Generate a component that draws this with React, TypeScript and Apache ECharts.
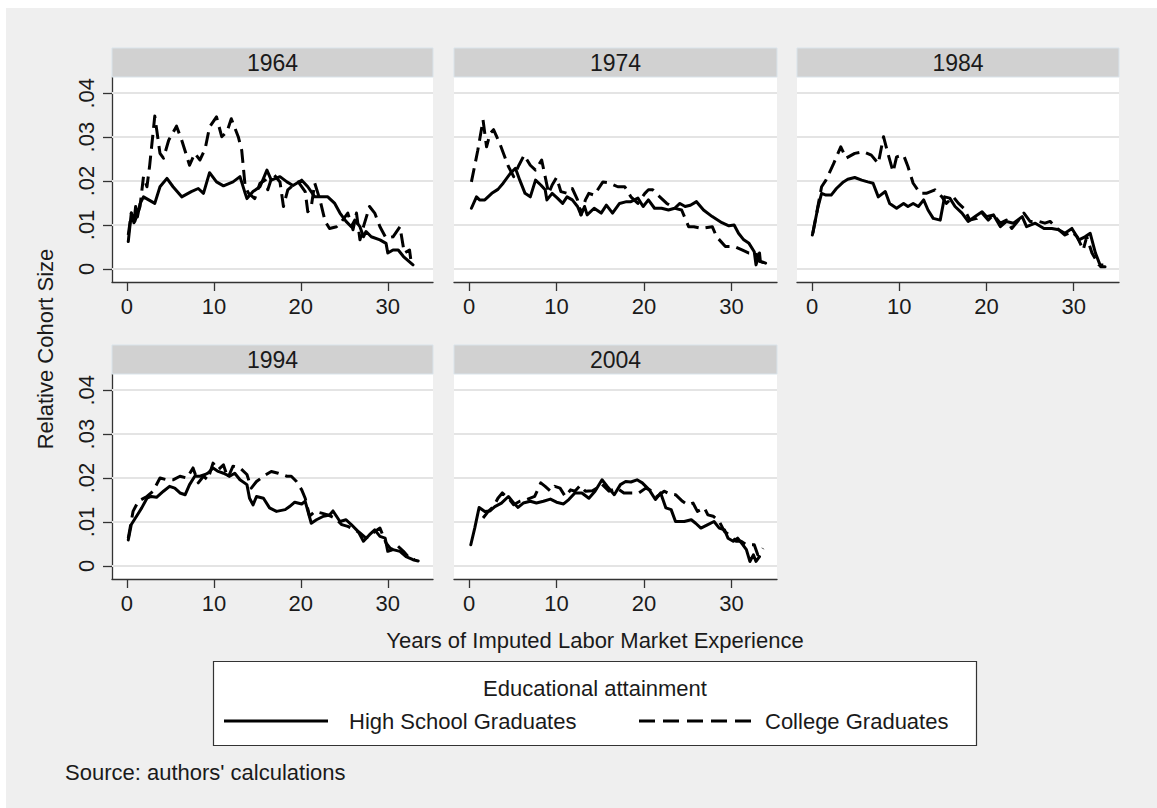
import React, { useEffect, useRef } from 'react';
import * as echarts from 'echarts';

const panelYears = ['1964', '1974', '1984', '1994', '2004'];
const xTicks = [0, 10, 20, 30];
const yTicks = [0, 0.01, 0.02, 0.03, 0.04];
const seriesNames = ['High School Graduates', 'College Graduates'];

const hs1964: [number, number][] = [
  [0.15, 0.0062], [0.5, 0.0127], [0.8, 0.0105], [1.0, 0.0142], [1.2, 0.0118], [1.5, 0.0148], [1.9, 0.0164], [2.5, 0.0157], [3.2, 0.0149],
  [3.8, 0.0187], [4.6, 0.0206], [5.3, 0.0187], [6.3, 0.0164], [7.4, 0.0176], [8.2, 0.0183], [8.8, 0.0172], [9.5, 0.0219],
  [10.3, 0.0198], [11.1, 0.0189], [12.2, 0.0198], [13.0, 0.021], [13.6, 0.0172], [13.8, 0.016], [14.5, 0.0176], [15.3, 0.0187],
  [16.1, 0.0225], [16.6, 0.0202], [17.6, 0.021], [18.4, 0.0198], [19.1, 0.019], [20.1, 0.0202], [20.8, 0.0187], [21.6, 0.0164],
  [22.2, 0.0164], [23.1, 0.0164], [23.9, 0.0149], [24.5, 0.0127], [25.2, 0.0108], [25.8, 0.0096], [26.2, 0.0111], [26.8, 0.0096],
  [27.2, 0.0073], [27.5, 0.0085], [28.1, 0.0073], [29.1, 0.0066], [29.8, 0.0058], [30.0, 0.0036], [30.6, 0.0043], [31.2, 0.0043],
  [31.8, 0.0028], [32.9, 0.0009]
];
const col1964: [number, number][] = [
  [0.15, 0.0077], [0.5, 0.0127], [0.9, 0.0108], [1.5, 0.0142], [1.9, 0.021], [2.3, 0.0187], [2.6, 0.0233], [3.2, 0.0348],
  [3.8, 0.0263], [4.2, 0.0252], [4.8, 0.0293], [5.7, 0.0325], [6.3, 0.0293], [7.2, 0.0236], [7.8, 0.0263], [8.4, 0.0248],
  [9.0, 0.0274], [9.5, 0.0323], [10.3, 0.0346], [10.9, 0.0301], [11.5, 0.0312], [12.0, 0.0342], [12.8, 0.0301], [13.2, 0.027],
  [13.6, 0.0187], [14.0, 0.0172], [14.7, 0.016], [15.3, 0.0195], [15.9, 0.0202], [16.2, 0.018], [16.8, 0.0217], [17.6, 0.0198],
  [18.0, 0.0142], [18.5, 0.018], [19.1, 0.019], [19.7, 0.0198], [20.5, 0.0176], [20.8, 0.013], [21.2, 0.0142], [21.6, 0.0195],
  [22.2, 0.0157], [22.8, 0.0108], [23.3, 0.0092], [24.1, 0.0096], [24.7, 0.0108], [25.4, 0.0127], [26.0, 0.0089], [26.4, 0.0127],
  [26.8, 0.0066], [27.2, 0.0096], [27.9, 0.0142], [28.5, 0.0127], [29.1, 0.0096], [29.8, 0.007], [30.6, 0.0073], [31.4, 0.0096],
  [31.9, 0.0036], [32.5, 0.0043], [32.7, 0.0013]
];
const hs1974: [number, number][] = [
  [0.27, 0.0138], [0.85, 0.0164], [1.2, 0.0157], [1.8, 0.0157], [2.6, 0.0172], [3.3, 0.0181], [3.9, 0.0195], [4.7, 0.0217],
  [5.3, 0.0229], [5.8, 0.0202], [6.4, 0.0172], [7.0, 0.0164], [7.6, 0.0202], [8.2, 0.0191], [8.7, 0.018], [8.9, 0.0157],
  [9.5, 0.0172], [10.1, 0.0161], [10.7, 0.0149], [11.2, 0.0164], [11.8, 0.0157], [12.4, 0.0142], [12.8, 0.0123], [13.2, 0.0142],
  [13.5, 0.0123], [14.3, 0.0138], [15.1, 0.0127], [15.7, 0.0145], [16.4, 0.0127], [17.2, 0.0149], [18.0, 0.0153], [18.5, 0.0153],
  [19.3, 0.0161], [19.9, 0.0142], [20.5, 0.0157], [21.2, 0.0138], [22.0, 0.0138], [22.8, 0.0134], [23.5, 0.0138], [24.1, 0.0149],
  [24.7, 0.0142], [25.3, 0.0145], [26.0, 0.0153], [26.8, 0.0134], [27.8, 0.0119], [28.9, 0.0105], [29.7, 0.0098], [30.3, 0.01],
  [30.8, 0.0081], [31.4, 0.0066], [32.0, 0.0058], [32.6, 0.0039], [32.8, 0.0009], [33.2, 0.0036], [33.3, 0.0017], [33.9, 0.0013]
];
const col1974: [number, number][] = [
  [0.27, 0.0198], [1.0, 0.027], [1.6, 0.0339], [2.0, 0.0278], [2.4, 0.0308], [2.8, 0.0317], [3.5, 0.0286], [4.5, 0.0233],
  [5.1, 0.021], [5.7, 0.0236], [6.3, 0.0259], [7.0, 0.0236], [7.6, 0.0225], [8.3, 0.0248], [8.7, 0.021], [9.1, 0.0172],
  [9.5, 0.0191], [10.0, 0.0208], [10.5, 0.0176], [11.2, 0.0172], [11.8, 0.0183], [12.4, 0.0157], [12.8, 0.0123], [13.3, 0.0157],
  [13.7, 0.0172], [14.3, 0.0168], [15.3, 0.0198], [16.0, 0.0196], [17.0, 0.0187], [17.8, 0.0187], [18.5, 0.0164], [19.3, 0.0149],
  [20.1, 0.0172], [20.5, 0.018], [21.0, 0.018], [21.8, 0.0164], [22.6, 0.0149], [23.5, 0.0138], [24.3, 0.0134], [25.1, 0.0096],
  [25.7, 0.0096], [26.6, 0.0092], [27.8, 0.0096], [28.3, 0.0073], [29.3, 0.0051], [30.3, 0.0051], [31.2, 0.0043], [32.0, 0.0036],
  [32.8, 0.0036], [33.2, 0.0017], [33.7, 0.0014]
];
const hs1984: [number, number][] = [
  [0.04, 0.0077], [0.7, 0.0142], [1.1, 0.0172], [1.6, 0.0168], [2.2, 0.0168], [2.8, 0.0183], [3.6, 0.0198], [4.1, 0.0204],
  [4.9, 0.0208], [5.7, 0.0202], [6.4, 0.0198], [7.0, 0.0195], [7.6, 0.0164], [8.4, 0.0176], [8.9, 0.0149], [9.7, 0.0138],
  [10.5, 0.0149], [11.0, 0.0142], [11.6, 0.0149], [12.2, 0.0142], [12.8, 0.0157], [13.3, 0.0134], [13.9, 0.0115], [14.7, 0.0111],
  [15.2, 0.0164], [15.8, 0.0161], [16.4, 0.0142], [17.2, 0.0127], [17.9, 0.0108], [18.7, 0.0119], [19.5, 0.013], [20.0, 0.0119],
  [20.8, 0.0123], [21.6, 0.0096], [22.3, 0.0108], [23.1, 0.0104], [24.1, 0.0119], [24.6, 0.0096], [25.6, 0.0104], [26.6, 0.0092],
  [27.5, 0.0092], [28.3, 0.0089], [29.0, 0.0081], [29.8, 0.0092], [30.6, 0.0066], [31.3, 0.0073], [31.9, 0.0081], [32.5, 0.0036],
  [33.1, 0.0005], [33.6, 0.0005]
];
const col1984: [number, number][] = [
  [0.1, 0.0081], [1.1, 0.0187], [1.6, 0.0202], [2.4, 0.0236], [3.3, 0.0278], [3.9, 0.0252], [4.9, 0.0263], [5.9, 0.0267],
  [6.8, 0.0259], [7.6, 0.024], [8.2, 0.0301], [8.7, 0.0263], [9.3, 0.0221], [9.7, 0.0255], [10.5, 0.0259], [11.0, 0.0233],
  [11.6, 0.0195], [12.4, 0.0172], [13.1, 0.0172], [14.1, 0.018], [14.9, 0.0164], [15.4, 0.0149], [16.2, 0.0164], [16.8, 0.0149],
  [17.4, 0.0138], [18.1, 0.0111], [18.9, 0.0115], [19.5, 0.0127], [20.2, 0.0111], [20.8, 0.0123], [21.6, 0.0104], [22.3, 0.0111],
  [22.9, 0.0092], [23.7, 0.0111], [24.3, 0.0127], [25.0, 0.0108], [26.0, 0.0108], [26.7, 0.0104], [27.3, 0.0108], [28.1, 0.0092],
  [29.0, 0.0077], [29.8, 0.0085], [30.4, 0.0073], [31.1, 0.0043], [31.5, 0.0073], [32.1, 0.0036], [32.9, 0.0009], [33.4, 0.0009]
];
const hs1994: [number, number][] = [
  [0.15, 0.0059], [0.5, 0.0094], [1.1, 0.0113], [1.7, 0.0132], [2.3, 0.0154], [2.8, 0.0158], [3.4, 0.0156], [4.2, 0.017],
  [4.9, 0.0181], [5.5, 0.0177], [6.1, 0.0166], [6.7, 0.0162], [7.2, 0.0185], [7.8, 0.0204], [8.4, 0.0204], [9.0, 0.0208],
  [9.3, 0.0211], [9.9, 0.0223], [10.5, 0.0215], [11.1, 0.0211], [11.8, 0.0204], [12.4, 0.0211], [13.0, 0.0196], [13.8, 0.0185],
  [14.1, 0.0154], [14.5, 0.0139], [14.9, 0.0158], [15.7, 0.0154], [16.4, 0.0132], [17.2, 0.0124], [18.2, 0.0128], [18.7, 0.0135],
  [19.3, 0.0145], [20.1, 0.0141], [20.5, 0.0147], [21.2, 0.0097], [21.8, 0.0105], [22.6, 0.0113], [23.3, 0.0116], [23.7, 0.0125],
  [24.5, 0.0101], [25.2, 0.0105], [25.8, 0.0094], [26.6, 0.0078], [27.2, 0.0056], [27.9, 0.0071], [28.5, 0.0082], [29.1, 0.0067],
  [29.7, 0.0063], [30.0, 0.0033], [30.6, 0.0037], [31.4, 0.0033], [32.1, 0.0021], [32.9, 0.0014], [33.5, 0.0011]
];
const col1994: [number, number][] = [
  [0.15, 0.0063], [0.7, 0.0124], [1.3, 0.0147], [2.3, 0.0158], [3.0, 0.017], [3.8, 0.02], [4.6, 0.0196], [5.3, 0.0196],
  [6.1, 0.0204], [6.9, 0.02], [7.6, 0.0223], [8.2, 0.0189], [8.8, 0.0204], [9.3, 0.0196], [9.9, 0.0234], [10.5, 0.0219],
  [11.1, 0.023], [11.6, 0.02], [12.2, 0.0227], [13.0, 0.0223], [13.8, 0.0208], [14.3, 0.0177], [14.9, 0.0192], [15.7, 0.0204],
  [16.6, 0.0215], [17.4, 0.0211], [18.4, 0.0204], [18.9, 0.0204], [19.5, 0.0192], [20.1, 0.0173], [20.5, 0.0154], [21.0, 0.0113],
  [21.6, 0.0124], [22.4, 0.012], [23.1, 0.0116], [23.9, 0.0109], [24.7, 0.0094], [25.4, 0.009], [26.2, 0.0082], [26.8, 0.0075],
  [27.5, 0.0063], [28.3, 0.0075], [29.1, 0.0086], [29.8, 0.0052], [30.4, 0.0037], [31.0, 0.0048], [31.8, 0.0033], [32.5, 0.0017],
  [33.1, 0.0014]
];
const hs2004: [number, number][] = [
  [0.2, 0.0048], [0.65, 0.0086], [1.15, 0.0133], [1.8, 0.0124], [2.4, 0.0125], [2.95, 0.0135], [3.7, 0.0143], [4.5, 0.0158],
  [5.1, 0.0143], [5.6, 0.0133], [6.2, 0.0143], [7.0, 0.0147], [7.7, 0.0143], [8.5, 0.0147], [9.3, 0.0152], [10.0, 0.0145],
  [10.8, 0.0141], [11.4, 0.0151], [12.1, 0.0166], [12.9, 0.0166], [13.7, 0.0154], [14.4, 0.017], [15.2, 0.0196], [15.8, 0.0181],
  [16.6, 0.0162], [17.3, 0.0185], [17.9, 0.0192], [18.5, 0.0191], [19.2, 0.0196], [19.8, 0.0189], [20.6, 0.0173], [21.3, 0.0151],
  [21.9, 0.0166], [22.5, 0.0132], [23.1, 0.0128], [23.6, 0.0101], [24.6, 0.0101], [25.4, 0.0105], [25.9, 0.0097], [26.5, 0.0086],
  [27.3, 0.0094], [28.0, 0.0101], [28.6, 0.0086], [29.2, 0.0082], [29.6, 0.0063], [30.2, 0.0056], [30.7, 0.0063], [31.3, 0.0048],
  [31.7, 0.0037], [32.1, 0.001], [32.5, 0.0025], [32.8, 0.001], [33.2, 0.0021]
];
const col2004: [number, number][] = [
  [1.6, 0.0109], [2.2, 0.0124], [2.8, 0.0135], [3.3, 0.0154], [3.8, 0.0166], [4.5, 0.0154], [5.1, 0.0139], [5.8, 0.0147],
  [6.6, 0.0151], [7.5, 0.0158], [8.2, 0.0189], [8.7, 0.0181], [9.3, 0.017], [9.8, 0.0181], [10.4, 0.0177], [11.0, 0.0158],
  [11.6, 0.0173], [12.1, 0.017], [12.7, 0.0183], [13.3, 0.017], [14.1, 0.0171], [14.6, 0.0177], [15.2, 0.0186], [16.0, 0.017],
  [16.9, 0.0177], [17.7, 0.0166], [18.5, 0.0166], [19.4, 0.0166], [20.2, 0.0177], [21.0, 0.017], [21.5, 0.0158], [22.3, 0.017],
  [22.9, 0.0164], [23.6, 0.0162], [24.4, 0.0147], [25.0, 0.0139], [25.6, 0.0143], [26.1, 0.0124], [26.9, 0.0132], [27.3, 0.0116],
  [27.9, 0.0113], [28.6, 0.0101], [29.2, 0.0078], [30.0, 0.0067], [30.5, 0.0056], [31.1, 0.0056], [31.7, 0.0048], [32.3, 0.0048],
  [32.6, 0.0048], [33.0, 0.0025], [33.4, 0.0033], [33.6, 0.004]
];

const highSchool = [hs1964, hs1974, hs1984, hs1994, hs2004];
const college = [col1964, col1974, col1984, col1994, col2004];

const FONT = '"Liberation Sans", Arial, Helvetica, sans-serif';
const TEXT_COLOR = '#1a1a1a';
const AXIS_COLOR = '#333333';

// layout (pixels)
const panelLeft = [112, 454, 797, 112, 454];
const panelTop = [77, 77, 77, 374, 374];
const panelWidth = [321, 323, 322, 321, 323];
const panelHeight = 205;
const stripHeight = 29;

function fmtY(v: number): string {
  if (Math.abs(v) < 1e-9) return '0';
  return v.toFixed(2).replace(/^0/, '');
}

export default function App() {
  const ref = useRef<HTMLDivElement>(null);

  useEffect(() => {
    if (!ref.current) return;
    const chart = echarts.init(ref.current, null, { renderer: 'svg' });

    const grids: any[] = [];
    const xAxes: any[] = [];
    const yAxes: any[] = [];
    const series: any[] = [];
    const graphics: any[] = [];

    panelYears.forEach((yr, i) => {
      const firstCol = i === 0 || i === 3;
      grids.push({
        left: panelLeft[i],
        top: panelTop[i],
        width: panelWidth[i],
        height: panelHeight,
        show: true,
        backgroundColor: '#ffffff',
        borderWidth: 0,
        containLabel: false,
      });
      xAxes.push({
        gridIndex: i,
        type: 'value',
        min: -1.72,
        max: 35.2,
        axisLine: { show: true, onZero: false, lineStyle: { color: AXIS_COLOR, width: 1.3 } },
        axisTick: { show: true, length: 9, customValues: xTicks, lineStyle: { color: AXIS_COLOR, width: 1.3 } },
        axisLabel: {
          show: true,
          customValues: xTicks,
          fontSize: 22,
          fontFamily: FONT,
          color: TEXT_COLOR,
          margin: 13,
          formatter: (v: number) => String(Math.round(v)),
        },
        splitLine: { show: false },
      });
      yAxes.push({
        gridIndex: i,
        type: 'value',
        min: -0.003,
        max: 0.0437,
        axisLine: { show: firstCol, onZero: false, lineStyle: { color: AXIS_COLOR, width: 1.3 } },
        axisTick: { show: firstCol, length: 9, customValues: yTicks, lineStyle: { color: AXIS_COLOR, width: 1.3 } },
        axisLabel: {
          show: firstCol,
          customValues: yTicks,
          rotate: 90,
          fontSize: 22,
          fontFamily: FONT,
          color: TEXT_COLOR,
          margin: 15,
          formatter: (v: number) => fmtY(v),
        },
        splitLine: { show: false },
      });
      // gridlines
      series.push({
        type: 'line',
        xAxisIndex: i,
        yAxisIndex: i,
        data: [],
        silent: true,
        z: 1,
        markLine: {
          silent: true,
          z: 1,
          symbol: ['none', 'none'],
          label: { show: false },
          lineStyle: { color: '#e4e4e4', width: 2, type: 'solid' },
          emphasis: { disabled: true },
          data: yTicks.map((v) => ({ yAxis: v })),
        },
      });
      series.push({
        name: seriesNames[0],
        type: 'line',
        xAxisIndex: i,
        yAxisIndex: i,
        data: highSchool[i],
        showSymbol: false,
        symbol: 'none',
        z: 3,
        lineStyle: { color: '#000000', width: 3, type: 'solid', join: 'round', cap: 'round' },
      });
      series.push({
        name: seriesNames[1],
        type: 'line',
        xAxisIndex: i,
        yAxisIndex: i,
        data: college[i],
        showSymbol: false,
        symbol: 'none',
        z: 3,
        lineStyle: { color: '#000000', width: 3, type: [14, 7], join: 'round' },
      });
      // strip header
      graphics.push({
        type: 'rect',
        shape: { x: panelLeft[i], y: panelTop[i] - stripHeight, width: panelWidth[i], height: stripHeight },
        style: { fill: '#d1d1d1', stroke: '#d9e3ea', lineWidth: 1 },
        z: 10,
      });
      graphics.push({
        type: 'text',
        x: panelLeft[i] + panelWidth[i] / 2,
        y: panelTop[i] - stripHeight / 2,
        style: {
          text: yr,
          font: `23px ${FONT}`,
          fill: TEXT_COLOR,
          align: 'center',
          verticalAlign: 'middle',
        },
        z: 11,
      });
    });

    // axis titles
    graphics.push({
      type: 'text',
      x: 595,
      y: 640,
      style: { text: 'Years of Imputed Labor Market Experience', font: `22px ${FONT}`, fill: TEXT_COLOR, align: 'center', verticalAlign: 'middle' },
      z: 11,
    });
    graphics.push({
      type: 'text',
      x: 45,
      y: 349,
      rotation: Math.PI / 2,
      style: { text: 'Relative Cohort Size', font: `22px ${FONT}`, fill: TEXT_COLOR, align: 'center', verticalAlign: 'middle' },
      z: 11,
    });

    // legend
    graphics.push({
      type: 'rect',
      shape: { x: 213.5, y: 661.5, width: 763, height: 84 },
      style: { fill: '#ffffff', stroke: '#333333', lineWidth: 1.2 },
      z: 10,
    });
    graphics.push({
      type: 'text',
      x: 595,
      y: 688,
      style: { text: 'Educational attainment', font: `22px ${FONT}`, fill: TEXT_COLOR, align: 'center', verticalAlign: 'middle' },
      z: 11,
    });
    graphics.push({
      type: 'line',
      shape: { x1: 224, y1: 721, x2: 328, y2: 721 },
      style: { stroke: '#000000', lineWidth: 3 },
      z: 11,
    });
    graphics.push({
      type: 'text',
      x: 349,
      y: 721,
      style: { text: seriesNames[0], font: `22px ${FONT}`, fill: TEXT_COLOR, align: 'left', verticalAlign: 'middle' },
      z: 11,
    });
    graphics.push({
      type: 'line',
      shape: { x1: 639, y1: 721, x2: 752, y2: 721 },
      style: { stroke: '#000000', lineWidth: 3, lineDash: [16, 8] },
      z: 11,
    });
    graphics.push({
      type: 'text',
      x: 765,
      y: 721,
      style: { text: seriesNames[1], font: `22px ${FONT}`, fill: TEXT_COLOR, align: 'left', verticalAlign: 'middle' },
      z: 11,
    });

    // source note
    graphics.push({
      type: 'text',
      x: 65,
      y: 772,
      style: { text: "Source: authors' calculations", font: `22px ${FONT}`, fill: TEXT_COLOR, align: 'left', verticalAlign: 'middle' },
      z: 11,
    });

    chart.setOption({
      animation: false,
      backgroundColor: 'transparent',
      textStyle: { fontFamily: FONT },
      grid: grids,
      xAxis: xAxes,
      yAxis: yAxes,
      series,
      graphic: { elements: graphics },
    });

    return () => chart.dispose();
  }, []);

  return (
    <div style={{ position: 'absolute', left: 0, top: 0, width: 1157, height: 808, background: '#ffffff' }}>
      <div style={{ position: 'absolute', left: 6, top: 8, width: 1151, height: 800, background: '#efefef' }} />
      <div ref={ref} style={{ position: 'absolute', left: 0, top: 0, width: 1157, height: 808 }} />
    </div>
  );
}
